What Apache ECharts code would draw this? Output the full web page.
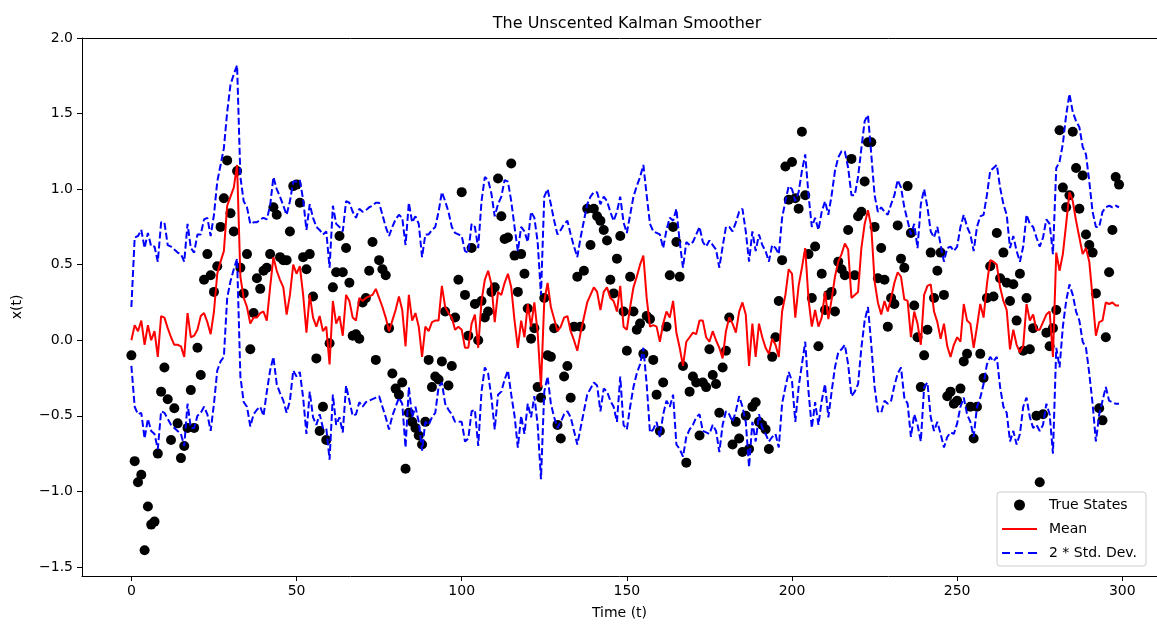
<!DOCTYPE html>
<html><head><meta charset="utf-8">
<script src="https://cdn.jsdelivr.net/npm/echarts@6/dist/echarts.min.js"></script>
<style>html,body{margin:0;padding:0;background:#fff}#c{width:1157px;height:625px}</style>
</head><body><div id="c"></div>
<script>
const trueStates = [
-0.10,-0.80,-0.94,-0.89,-1.39,-1.10,-1.22,-1.20,-0.75,-0.34,
-0.18,-0.39,-0.66,-0.45,-0.55,-0.78,-0.70,-0.58,-0.33,-0.58,
-0.05,-0.23,0.40,0.57,0.43,0.32,0.49,0.75,0.94,1.19,
0.84,0.72,1.12,0.48,0.31,0.57,-0.06,0.18,0.41,0.34,
0.46,0.48,0.57,0.88,0.83,0.55,0.53,0.53,0.72,1.02,
1.03,0.91,0.55,0.47,0.57,0.29,-0.12,-0.60,-0.44,-0.66,
-0.02,0.35,0.45,0.69,0.45,0.61,0.38,0.03,0.04,0.01,
0.25,0.28,0.46,0.65,-0.13,0.53,0.47,0.43,0.08,-0.22,
-0.32,-0.36,-0.28,-0.85,-0.48,-0.54,-0.58,-0.63,-0.69,-0.54,
-0.13,-0.31,-0.24,-0.26,-0.14,0.19,-0.30,-0.17,0.15,0.40,
0.98,0.30,0.03,0.61,0.24,0.00,0.26,0.15,0.19,0.32,
0.35,1.07,0.82,0.67,0.68,1.17,0.56,0.32,0.57,0.44,
0.21,0.01,0.08,-0.31,-0.38,0.28,-0.10,-0.11,0.08,-0.56,
-0.65,-0.24,-0.17,-0.38,0.09,0.42,0.09,0.46,0.87,0.63,
0.87,0.82,0.79,0.73,0.66,0.40,0.31,0.54,0.69,0.19,
-0.07,0.42,0.19,0.07,0.11,-0.09,0.16,0.14,-0.13,-0.36,
-0.60,-0.28,0.09,0.43,0.75,0.65,0.42,-0.17,-0.81,-0.34,
-0.24,-0.28,-0.63,-0.28,-0.31,-0.06,-0.23,-0.29,-0.48,-0.18,
-0.07,0.15,-0.69,-0.54,-0.65,-0.74,-0.50,-0.72,-0.44,-0.41,
-0.54,-0.56,-0.59,-0.72,-0.11,0.02,0.26,0.53,1.15,0.93,
1.18,0.94,0.87,1.38,0.96,0.57,0.28,0.62,-0.04,0.44,
0.20,0.30,0.32,0.19,0.52,0.47,0.43,0.73,1.20,0.43,
0.82,0.85,1.05,1.31,1.31,0.75,0.41,0.61,0.40,0.09,
0.28,0.24,0.76,0.54,0.48,1.02,0.71,0.23,0.02,-0.31,
-0.10,0.07,0.58,0.28,0.46,0.58,0.30,-0.37,-0.34,-0.42,
-0.40,-0.32,-0.14,-0.09,-0.44,-0.65,-0.44,-0.09,-0.25,0.28,
0.49,0.29,0.71,0.41,0.58,0.38,0.26,0.37,0.13,0.44,
-0.07,0.28,-0.06,0.08,-0.50,-0.94,-0.49,0.05,-0.04,0.08,
0.20,1.39,1.01,0.88,0.96,1.38,1.14,0.87,1.09,0.70,
0.63,0.58,0.31,-0.45,-0.53,0.02,0.45,0.73,1.08,1.03];

const meanState = [
0.00,0.10,0.06,0.13,-0.03,0.10,0.00,0.06,-0.11,0.16,
0.15,0.08,0.02,-0.03,-0.03,-0.04,-0.11,0.18,0.02,0.03,
0.07,0.16,0.18,0.12,0.04,0.19,0.44,0.52,0.59,0.89,
0.95,1.01,1.16,0.42,0.28,0.22,0.11,0.15,0.15,0.18,
0.19,0.13,0.35,0.55,0.46,0.40,0.35,0.17,0.30,0.50,
0.44,0.49,0.30,0.05,0.30,0.15,0.09,0.16,0.06,0.09,
-0.16,0.26,0.11,0.16,0.03,0.30,0.26,0.15,0.13,0.28,
0.26,0.28,0.29,0.30,0.34,0.28,0.22,0.15,0.06,0.13,
0.20,0.29,0.20,-0.04,0.30,0.13,0.18,0.09,-0.11,0.09,
0.06,0.12,0.13,0.13,0.36,0.22,0.18,0.15,0.07,0.09,
0.07,-0.05,-0.05,0.11,0.17,-0.05,0.26,0.40,0.46,0.37,
0.12,0.32,0.30,0.38,0.44,0.35,0.13,-0.05,0.13,0.02,
0.24,0.09,0.25,0.05,-0.31,0.26,0.38,0.22,0.14,0.06,
0.09,0.15,0.16,0.06,0.00,-0.07,0.05,0.15,0.25,0.30,
0.35,0.32,0.20,0.32,0.35,0.28,0.26,0.19,0.36,0.09,
0.07,0.22,0.35,0.42,0.50,0.56,0.28,0.09,0.10,0.09,
-0.01,0.11,0.19,0.15,0.26,0.05,-0.05,-0.17,-0.01,0.02,
0.05,0.04,0.13,0.13,0.02,-0.01,0.06,0.00,-0.05,-0.12,
0.06,0.15,0.11,0.05,0.19,0.25,0.17,-0.17,0.11,-0.11,
0.11,0.02,-0.05,-0.09,0.01,-0.03,-0.11,0.19,0.30,0.47,
0.44,0.15,0.36,0.48,0.61,0.27,0.09,0.20,0.09,0.15,
0.32,0.14,0.27,0.42,0.52,0.57,0.64,0.60,0.28,0.30,
0.32,0.61,0.77,0.86,0.75,0.39,0.25,0.17,0.26,0.19,
0.28,0.38,0.45,0.42,0.27,0.26,0.02,0.19,0.11,-0.03,
0.30,0.36,0.37,0.19,0.12,0.01,0.11,-0.04,-0.11,-0.03,
0.02,-0.01,0.24,0.13,0.11,-0.05,0.09,0.24,0.15,0.37,
0.53,0.52,0.50,0.35,0.26,0.20,-0.06,0.07,-0.03,-0.08,
-0.04,0.24,0.13,0.17,0.07,0.07,0.12,0.17,0.19,-0.11,
0.58,0.46,0.57,0.77,0.98,0.92,0.79,0.68,0.57,0.61,
0.52,0.28,0.03,0.12,0.13,0.25,0.24,0.25,0.23,0.23];

const upperBand = [
0.22,0.68,0.69,0.73,0.61,0.71,0.62,0.62,0.52,0.78,
0.78,0.63,0.62,0.60,0.58,0.57,0.52,0.77,0.61,0.58,
0.70,0.70,0.80,0.81,0.69,0.83,1.05,1.16,1.27,1.51,
1.69,1.76,1.82,1.08,0.92,0.88,0.77,0.78,0.78,0.80,
0.81,0.80,0.89,1.08,1.00,0.95,0.89,0.83,0.92,1.05,
1.05,1.06,0.93,0.73,0.90,0.81,0.75,0.73,0.70,0.72,
0.48,0.89,0.77,0.75,0.72,0.92,0.91,0.85,0.81,0.87,
0.85,0.86,0.88,0.89,0.91,0.91,0.83,0.75,0.69,0.75,
0.80,0.83,0.81,0.63,0.91,0.78,0.82,0.77,0.55,0.70,
0.70,0.73,0.75,0.85,0.98,0.92,0.85,0.75,0.71,0.70,
0.69,0.59,0.58,0.77,0.75,0.61,0.92,1.08,1.06,0.97,
0.82,0.90,0.95,1.06,1.05,0.92,0.75,0.59,0.75,0.72,
0.65,0.85,0.81,0.65,0.30,0.95,1.00,0.90,0.79,0.70,
0.73,0.77,0.79,0.70,0.62,0.55,0.68,0.79,0.90,0.95,
0.98,0.98,0.90,0.95,0.92,0.85,0.79,0.85,0.95,0.78,
0.71,0.83,0.95,1.02,1.08,1.16,0.96,0.77,0.72,0.71,
0.70,0.61,0.73,0.81,0.79,0.87,0.65,0.48,0.65,0.63,
0.65,0.70,0.75,0.65,0.62,0.66,0.63,0.60,0.48,0.62,
0.75,0.75,0.72,0.78,0.85,0.87,0.72,0.52,0.72,0.59,
0.70,0.63,0.59,0.52,0.63,0.61,0.57,0.81,0.92,1.02,
1.00,0.92,0.98,1.12,1.23,0.96,0.75,0.81,0.73,0.85,
0.92,0.83,0.96,1.12,1.21,1.25,1.25,1.14,0.96,0.96,
1.08,1.27,1.45,1.49,1.23,0.96,0.85,0.88,0.85,0.83,
0.90,0.96,1.06,1.01,0.88,0.79,0.70,0.77,0.61,0.90,
1.00,0.88,0.72,0.68,0.75,0.63,0.52,0.61,0.62,0.59,
0.62,0.75,0.83,0.75,0.70,0.59,0.75,0.82,0.83,0.96,
1.12,1.14,1.16,1.01,0.90,0.83,0.61,0.69,0.59,0.52,
0.62,0.83,0.77,0.75,0.68,0.62,0.68,0.80,0.77,0.57,
1.14,1.18,1.30,1.49,1.63,1.51,1.45,1.41,1.28,1.23,
1.05,0.85,0.75,0.75,0.85,0.88,0.89,0.88,0.89,0.88];

const lowerBand = [
-0.17,-0.44,-0.49,-0.48,-0.65,-0.52,-0.60,-0.62,-0.72,-0.47,
-0.48,-0.52,-0.56,-0.58,-0.60,-0.62,-0.70,-0.42,-0.58,-0.58,
-0.50,-0.48,-0.44,-0.49,-0.60,-0.42,-0.20,-0.14,-0.11,0.28,
0.39,0.47,0.54,-0.24,-0.41,-0.44,-0.57,-0.49,-0.46,-0.44,
-0.50,-0.34,-0.20,-0.11,-0.29,-0.35,-0.40,-0.48,-0.40,-0.20,
-0.24,-0.21,-0.38,-0.62,-0.34,-0.51,-0.56,-0.49,-0.58,-0.58,
-0.79,-0.36,-0.56,-0.51,-0.61,-0.30,-0.40,-0.50,-0.49,-0.41,
-0.44,-0.41,-0.40,-0.39,-0.38,-0.37,-0.44,-0.51,-0.59,-0.50,
-0.44,-0.38,-0.42,-0.71,-0.31,-0.51,-0.44,-0.54,-0.73,-0.54,
-0.56,-0.51,-0.48,-0.31,-0.28,-0.42,-0.46,-0.49,-0.54,-0.54,
-0.54,-0.67,-0.65,-0.47,-0.46,-0.70,-0.34,-0.18,-0.22,-0.38,
-0.59,-0.36,-0.34,-0.26,-0.20,-0.36,-0.50,-0.71,-0.50,-0.62,
-0.42,-0.51,-0.37,-0.56,-0.92,-0.34,-0.24,-0.42,-0.51,-0.58,
-0.54,-0.49,-0.47,-0.51,-0.60,-0.69,-0.58,-0.47,-0.36,-0.32,
-0.28,-0.30,-0.47,-0.32,-0.34,-0.40,-0.44,-0.54,-0.24,-0.56,
-0.59,-0.44,-0.31,-0.22,-0.16,-0.05,-0.29,-0.61,-0.59,-0.54,
-0.64,-0.49,-0.40,-0.44,-0.36,-0.69,-0.72,-0.77,-0.64,-0.59,
-0.56,-0.51,-0.49,-0.60,-0.61,-0.62,-0.56,-0.60,-0.74,-0.56,
-0.47,-0.49,-0.54,-0.47,-0.37,-0.44,-0.54,-0.84,-0.54,-0.67,
-0.49,-0.58,-0.62,-0.67,-0.64,-0.62,-0.71,-0.42,-0.31,-0.21,
-0.27,-0.54,-0.31,-0.16,-0.01,-0.34,-0.58,-0.41,-0.56,-0.40,
-0.29,-0.51,-0.34,-0.18,-0.08,-0.06,-0.03,-0.16,-0.37,-0.34,
-0.29,-0.05,0.13,0.22,-0.03,-0.31,-0.47,-0.48,-0.40,-0.42,
-0.40,-0.30,-0.22,-0.18,-0.38,-0.42,-0.64,-0.49,-0.56,-0.67,
-0.31,-0.28,-0.51,-0.60,-0.54,-0.62,-0.71,-0.64,-0.61,-0.62,
-0.55,-0.44,-0.38,-0.49,-0.54,-0.64,-0.44,-0.38,-0.29,-0.16,
-0.11,-0.14,-0.11,-0.31,-0.44,-0.48,-0.67,-0.60,-0.69,-0.62,
-0.44,-0.38,-0.51,-0.58,-0.56,-0.60,-0.56,-0.42,-0.49,-0.75,
-0.05,-0.18,0.09,0.26,0.37,0.30,0.19,0.13,-0.01,-0.05,
-0.22,-0.42,-0.67,-0.49,-0.40,-0.31,-0.40,-0.41,-0.42,-0.42];

const xTicks = [0, 50, 100, 150, 200, 250, 300];
const yTicks = [-1.5, -1.0, -0.5, 0.0, 0.5, 1.0, 1.5, 2.0];

const FONT = 'DejaVu Sans';
const X_MIN = -14.95, X_MAX = 310.5;
const pairs = arr => arr.map((v, i) => [i, v]);
const chart = echarts.init(document.getElementById('c'), null, {renderer: 'canvas'});
chart.setOption({
  animation: false,
  backgroundColor: '#fff',
  textStyle: {fontFamily: FONT, color: '#000'},
  title: {
    text: 'The Unscented Kalman Smoother',
    left: 622, top: 11, textAlign: 'center',
    textStyle: {fontFamily: FONT, fontSize: 16, fontWeight: 'normal', color: '#000'}
  },
  grid: {left: 82, top: 38, right: 0, bottom: 48, show: false, containLabel: false},
  legend: {
    orient: 'vertical', left: 997, top: 492,
    data: [
      {name: 'True States', icon: 'circle'},
      {name: 'Mean', icon: 'path://M0,0L35,0L35,2L0,2Z'},
      {name: '2 * Std. Dev.', icon: 'path://M0,0h8v2h-8z M13,0h8v2h-8z M26,0h9v2h-9z'}
    ],
    itemWidth: 35, itemHeight: 11, itemGap: 10,
    padding: [6, 9, 6, 5],
    borderColor: '#cccccc', borderWidth: 1, borderRadius: 3, backgroundColor: 'rgba(255,255,255,0.8)',
    textStyle: {fontFamily: FONT, fontSize: 14, color: '#000', padding: [0, 0, 0, 7]}
  },
  xAxis: [{
    type: 'value', min: X_MIN, max: X_MAX, position: 'bottom',
    name: 'Time (t)', nameLocation: 'middle', nameGap: 30,
    nameTextStyle: {fontFamily: FONT, fontSize: 14, color: '#000'},
    axisLine: {show: true, onZero: false, lineStyle: {color: '#000'}},
    axisTick: {show: true, inside: false, length: 5, lineStyle: {color: '#000'}, customValues: xTicks},
    axisLabel: {fontFamily: FONT, fontSize: 14, color: '#000', margin: 8, customValues: xTicks,
      formatter: v => String(Math.round(v))},
    splitLine: {show: false}
  }, {
    type: 'value', min: X_MIN, max: X_MAX, position: 'top',
    axisLine: {show: true, onZero: false, lineStyle: {color: '#000'}},
    axisTick: {show: false}, axisLabel: {show: false}, splitLine: {show: false}
  }],
  yAxis: {
    type: 'value', min: -1.56, max: 2.0,
    name: 'x(t)', nameLocation: 'middle', nameGap: 58, nameRotate: 90,
    nameTextStyle: {fontFamily: FONT, fontSize: 14, color: '#000'},
    axisLine: {show: true, onZero: false, lineStyle: {color: '#000'}},
    axisTick: {show: true, inside: false, length: 5, lineStyle: {color: '#000'}, customValues: yTicks},
    axisLabel: {fontFamily: FONT, fontSize: 14, color: '#000', margin: 9, customValues: yTicks,
      formatter: v => v.toFixed(1).replace('-', '\u2212')},
    splitLine: {show: false}
  },
  series: [
    {name: 'True States', type: 'scatter', data: pairs(trueStates), symbol: 'circle', symbolSize: 10,
      itemStyle: {color: '#000', opacity: 1}, z: 2},
    {name: 'Mean', type: 'line', data: pairs(meanState), symbol: 'none', smooth: false,
      lineStyle: {color: '#ff0000', width: 2}, itemStyle: {color: '#ff0000'}, z: 3},
    {name: '2 * Std. Dev.', type: 'line', data: pairs(upperBand), symbol: 'none',
      lineStyle: {color: '#0000ff', width: 2, type: [7, 3]}, itemStyle: {color: '#0000ff'}, z: 4},
    {name: '2 * Std. Dev.', type: 'line', data: pairs(lowerBand), symbol: 'none',
      lineStyle: {color: '#0000ff', width: 2, type: [7, 3]}, itemStyle: {color: '#0000ff'}, z: 4}
  ]
});
</script>
</body></html>
